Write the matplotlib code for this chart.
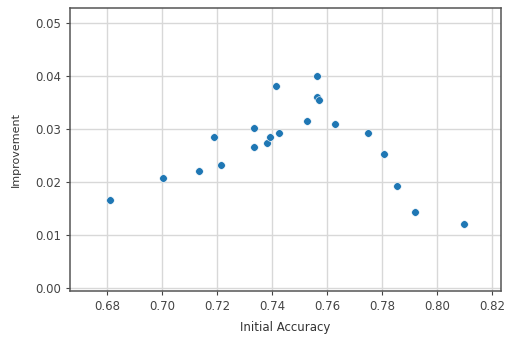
import numpy as np
import matplotlib
matplotlib.use("Agg")
import matplotlib.pyplot as plt

# initial accuracy vs improvement
initial_acc = [0.681, 0.7005, 0.7135, 0.7215, 0.719, 0.7336, 0.7336, 0.7383,
               0.7393, 0.7415, 0.7427, 0.7528, 0.7563, 0.7563, 0.7572, 0.7628,
               0.775, 0.7808, 0.7853, 0.7921, 0.8098]
improvement = [0.0165, 0.0208, 0.0221, 0.0231, 0.0285, 0.0302, 0.0265, 0.0274,
               0.0285, 0.0380, 0.0293, 0.0314, 0.0400, 0.0361, 0.0354, 0.0309,
               0.0293, 0.0253, 0.0192, 0.0143, 0.0121]

xticks = [0.68, 0.70, 0.72, 0.74, 0.76, 0.78, 0.80, 0.82]
yticks = [0.00, 0.01, 0.02, 0.03, 0.04, 0.05]

fig = plt.figure(figsize=(5.06, 3.37), dpi=100)
ax = fig.add_axes([70 / 506, 1 - 291 / 337, 431 / 506, 283 / 337])

ax.scatter(initial_acc, improvement, s=30, color="#1f77b4",
           edgecolor="white", linewidth=0.4, zorder=3)

ax.set_xlim(0.6665, 0.8233)
ax.set_ylim(-0.0006, 0.0528)
ax.set_xticks(xticks)
ax.set_yticks(yticks)
ax.set_xticklabels(["%.2f" % t for t in xticks])
ax.set_yticklabels(["%.2f" % t for t in yticks])
ax.tick_params(labelsize=8.5, colors="#444444", length=3)
ax.grid(True, color="#d8d8d8", linewidth=1)
ax.set_axisbelow(True)
for s in ax.spines.values():
    s.set_color("#555555")
    s.set_linewidth(1.1)

ax.set_xlabel("Initial Accuracy", fontsize=8.5, color="#333333", labelpad=6)
ax.set_ylabel("Improvement", fontsize=8, color="#333333", labelpad=10)

fig.savefig("out.png", dpi=100)
